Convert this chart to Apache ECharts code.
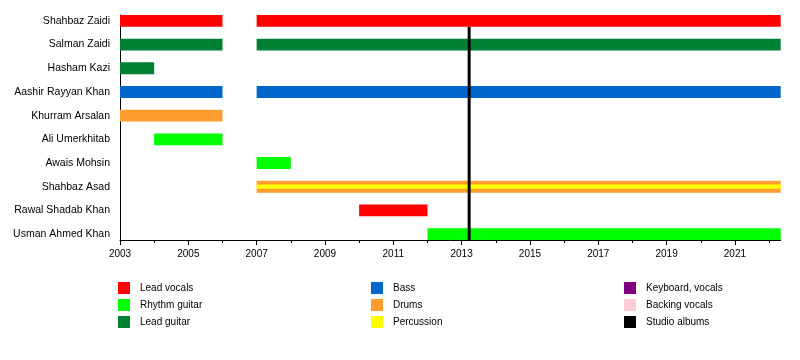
<!DOCTYPE html>
<html>
<head>
<meta charset="utf-8">
<script src="https://cdn.jsdelivr.net/npm/echarts@6/dist/echarts.min.js"></script>
<style>
html,body{margin:0;padding:0;background:#fff;}
#chart{width:800px;height:360px;}
</style>
</head>
<body>
<div id="chart"></div>
<script>
// ---- data ----
const members = ["Shahbaz Zaidi", "Salman Zaidi", "Hasham Kazi", "Aashir Rayyan Khan", "Khurram Arsalan",
  "Ali Umerkhitab", "Awais Mohsin", "Shahbaz Asad", "Rawal Shadab Khan", "Usman Ahmed Khan"];
const startYear = 2003;
const endYear = 2022.34;
const yearLabels = [2003, 2005, 2007, 2009, 2011, 2013, 2015, 2017, 2019, 2021];
const yearTicks = [2003, 2004, 2005, 2006, 2007, 2008, 2009, 2010, 2011, 2012, 2013, 2014, 2015, 2016, 2017, 2018, 2019, 2020, 2021, 2022];
// [member index, start, end]
const leadVocals   = [[0, 2003, 2006], [0, 2007, 2022.34], [8, 2010, 2012]];
const rhythmGuitar = [[5, 2004, 2006], [6, 2007, 2008], [9, 2012, 2022.34]];
const leadGuitar   = [[1, 2003, 2006], [1, 2007, 2022.34], [2, 2003, 2004]];
const bass         = [[3, 2003, 2006], [3, 2007, 2022.34]];
const drums        = [[4, 2003, 2006], [7, 2007, 2022.34]];
const percussion   = [[7, 2007, 2022.34]];
const keyboardVocals = [];
const backingVocals  = [];
const studioAlbums = [2013.22];

// ---- chart ----
const FONT = "'Liberation Sans', Arial, sans-serif";
const chart = echarts.init(document.getElementById('chart'), null, {renderer: 'canvas'});

function barRenderer(frac) {
  return function (params, api) {
    const row = api.value(0);
    const p1 = api.coord([api.value(1), row]);
    const p2 = api.coord([api.value(2), row]);
    const h = api.size([0, 1])[1] * 0.5 * frac;
    return {
      type: 'rect',
      shape: {x: p1[0], y: p1[1] - h / 2, width: p2[0] - p1[0], height: h},
      style: {fill: api.visual('color')}
    };
  };
}

function barSeries(name, color, data, frac) {
  return {
    name: name, type: 'custom', color: color,
    renderItem: barRenderer(frac || 1),
    encode: {x: [1, 2], y: 0},
    data: data, silent: true, animation: false
  };
}

const albumSeries = {
  name: 'Studio albums', type: 'custom', color: '#000000',
  renderItem: function (params, api) {
    const x = api.value(0);
    const top = api.coord([x, 0.25]);
    const bot = api.coord([x, members.length - 0.75]);
    return {
      type: 'line',
      shape: {x1: top[0], y1: top[1], x2: bot[0], y2: bot[1]},
      style: {stroke: '#000000', lineWidth: 3}
    };
  },
  encode: {x: 0},
  data: studioAlbums.map(v => [v]), silent: true, animation: false, z: 5
};

const legendBase = {
  orient: 'vertical', top: 282, itemWidth: 12, itemHeight: 12, itemGap: 5, padding: 0,
  icon: 'rect', selectedMode: false,
  textStyle: {fontFamily: FONT, fontSize: 10, color: '#000', padding: [0, 0, 0, 5]}
};

chart.setOption({
  animation: false,
  backgroundColor: '#ffffff',
  grid: {left: 120, right: 19.3, top: 15, bottom: 120},
  xAxis: [{
    type: 'value', min: startYear, max: endYear,
    axisLine: {show: true, onZero: false, lineStyle: {color: '#000', width: 1}},
    axisTick: {show: true, length: 5, customValues: yearLabels, lineStyle: {color: '#000'}},
    axisLabel: {customValues: yearLabels, fontFamily: FONT, fontSize: 10, color: '#000', margin: 9,
      formatter: v => String(v)},
    splitLine: {show: false}
  }, {
    type: 'value', min: startYear, max: endYear, position: 'bottom',
    axisLine: {show: false, onZero: false},
    axisTick: {show: true, length: 3, customValues: yearTicks, lineStyle: {color: '#000'}},
    axisLabel: {show: false},
    splitLine: {show: false}
  }],
  yAxis: {
    type: 'value', inverse: true, min: -0.25, max: members.length - 0.75,
    axisLine: {show: true, onZero: false, lineStyle: {color: '#000', width: 1}},
    axisTick: {show: false},
    axisLabel: {customValues: members.map((m, i) => i), fontFamily: FONT, fontSize: 10.5, color: '#000', margin: 10,
      formatter: v => members[Math.round(v)] || ''},
    splitLine: {show: false}
  },
  legend: [
    Object.assign({}, legendBase, {left: 118, data: ['Lead vocals', 'Rhythm guitar', 'Lead guitar']}),
    Object.assign({}, legendBase, {left: 371, data: ['Bass', 'Drums', 'Percussion']}),
    Object.assign({}, legendBase, {left: 624, data: ['Keyboard, vocals', 'Backing vocals', 'Studio albums']})
  ],
  series: [
    barSeries('Lead vocals', '#ff0000', leadVocals),
    barSeries('Rhythm guitar', '#00ff00', rhythmGuitar),
    barSeries('Lead guitar', '#008033', leadGuitar),
    barSeries('Bass', '#0066cc', bass),
    barSeries('Drums', '#ff9e2f', drums),
    Object.assign(barSeries('Percussion', '#ffff00', percussion, 0.36), {z: 3}),
    barSeries('Keyboard, vocals', '#800080', keyboardVocals),
    barSeries('Backing vocals', '#ffccd5', backingVocals),
    albumSeries
  ]
});
</script>
</body>
</html>
